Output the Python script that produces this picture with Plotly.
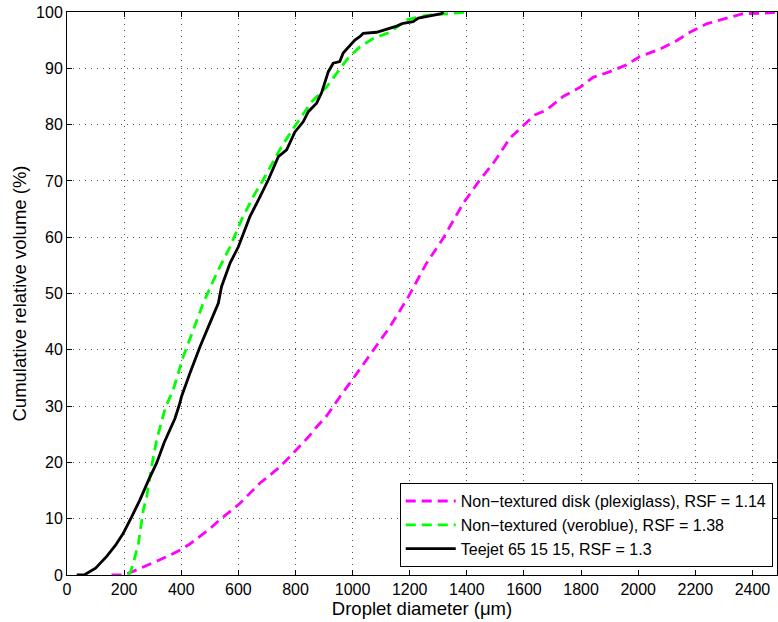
import plotly.graph_objects as go

# Non-textured disk (plexiglass)
mag_x = [156, 197, 225, 255, 290, 325, 360, 395, 430, 465, 500, 535, 570, 605, 640, 675, 710, 745, 780, 815,
         845, 874, 905, 932, 956, 1002, 1061, 1131, 1195, 1259, 1317, 1387, 1446, 1492, 1516, 1551, 1597, 1638,
         1679, 1737, 1796, 1842, 1901, 1959, 2006, 2076, 2134, 2181, 2239, 2309, 2367, 2437, 2490]
mag_y = [0, 0, 0.5, 1.2, 1.9, 2.7, 3.5, 4.4, 5.5, 6.8, 8.2, 9.8, 11.2, 12.7, 14.5, 16.3, 17.7, 19.2, 21, 22.8,
         24.5, 26.3, 28, 29.9, 31.7, 34.9, 39.1, 44.1, 49.4, 55.4, 59.8, 66, 70.2, 73.1, 74.9, 77.6, 79.8, 81.7,
         82.6, 85, 86.6, 88.4, 89.4, 90.6, 92.1, 93.4, 94.9, 96.4, 97.9, 98.9, 99.7, 99.8, 100]

# Non-textured (veroblue)
grn_x = [215, 222, 232, 250, 267, 279, 296, 314, 331, 345, 372, 407, 442, 477, 524, 571, 611, 652, 687, 711,
         750, 792, 856, 909, 950, 979, 1025, 1072, 1131, 1189, 1259, 1320, 1387, 1400]
grn_y = [0, 0.5, 2, 5.6, 11.5, 13.9, 19.2, 24, 27.2, 29.8, 32.9, 38.8, 43.5, 48.3, 53.6, 58.3, 63.1, 67.2, 70.2, 72.5,
         76, 79.3, 84, 86.7, 89.4, 91.5, 93.8, 95.3, 96.4, 98.6, 99.4, 99.7, 99.9, 100]

# Teejet 65 15 15
blk_x = [34, 60, 100, 139, 170, 197, 225, 255, 285, 314, 340, 360, 378, 395, 401, 430, 466, 500, 530, 541, 571,
         600, 617, 640, 676, 705, 740, 769, 798, 827, 845, 874, 891, 909, 915, 932, 955, 967, 990, 1008, 1025,
         1037, 1084, 1154, 1177, 1212, 1230, 1311, 1318]
blk_y = [0, 0, 1.2, 3.3, 5.3, 7.4, 10.2, 13.3, 16.8, 19.9, 23.5, 25.8, 27.8, 30.5, 31.7, 35.8, 40.6, 44.7, 48.3,
         51.2, 55.4, 58.3, 60.7, 63.6, 67.2, 70.2, 74.3, 75.5, 78.7, 80.5, 82.3, 83.8, 85.6, 88.5, 89.4, 90.9,
         91.2, 92.7, 94.1, 95, 95.6, 96.2, 96.4, 97.5, 98, 98.3, 98.9, 99.7, 100]

names = ["Non\u2212textured disk (plexiglass), RSF = 1.14",
         "Non\u2212textured (veroblue), RSF = 1.38",
         "Teejet 65 15 15, RSF = 1.3"]

x_ticks = list(range(0, 2401, 200))
y_ticks = list(range(0, 101, 10))

fig = go.Figure()
fig.add_trace(go.Scatter(x=mag_x, y=mag_y, mode="lines", name=names[0],
                         line=dict(color="#ff00ff", width=2.8, dash="10px,6px")))
fig.add_trace(go.Scatter(x=grn_x, y=grn_y, mode="lines", name=names[1],
                         line=dict(color="#00ff00", width=2.8, dash="10px,6px")))
fig.add_trace(go.Scatter(x=blk_x, y=blk_y, mode="lines", name=names[2],
                         line=dict(color="black", width=2.8)))

axis_common = dict(showline=True, linecolor="black", linewidth=1, mirror="ticks",
                   ticks="inside", ticklen=5, tickcolor="black", tickwidth=1,
                   showgrid=True, gridcolor="#555555", gridwidth=1, griddash="1px,5px",
                   zeroline=False, tickfont=dict(size=16, color="black"),
                   title_font=dict(size=18.5, color="black"))

fig.update_layout(
    width=778, height=622,
    margin=dict(l=67, r=1, t=12, b=47),
    paper_bgcolor="white", plot_bgcolor="white",
    font=dict(family="Liberation Sans, Arial, sans-serif", color="black"),
    xaxis=dict(range=[0, 2486], tickvals=x_ticks, title=dict(text="Droplet diameter (\u03bcm)", standoff=2),
               **axis_common),
    yaxis=dict(range=[0, 100], tickvals=y_ticks, title=dict(text="Cumulative relative volume (%)", standoff=4),
               **axis_common),
    legend=dict(x=0.994, y=0.014, xanchor="right", yanchor="bottom",
                bgcolor="white", bordercolor="black", borderwidth=1,
                font=dict(size=16, color="black"), itemwidth=50,
                tracegroupgap=0),
    showlegend=True,
)

fig.write_html("out.html")
